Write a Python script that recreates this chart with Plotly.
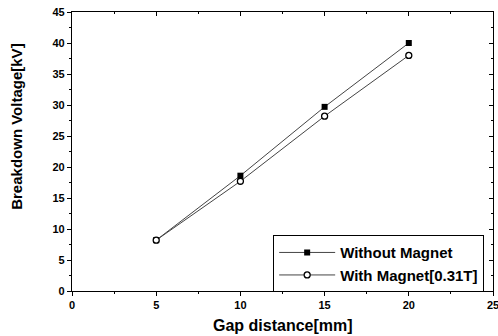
import plotly.graph_objects as go

gap_mm = [5, 10, 15, 20]
without_magnet = [8.2, 18.6, 29.7, 40.0]
with_magnet = [8.2, 17.7, 28.2, 38.0]
x_ticks = [0, 5, 10, 15, 20, 25]
y_ticks = [0, 5, 10, 15, 20, 25, 30, 35, 40, 45]

FONT = "Liberation Sans, Arial, sans-serif"

fig = go.Figure()
fig.add_trace(go.Scatter(
    x=gap_mm, y=without_magnet, mode="lines+markers", name="<b>Without Magnet</b>",
    line=dict(color="#444", width=1),
    marker=dict(symbol="square", size=6, color="black"),
))
fig.add_trace(go.Scatter(
    x=gap_mm, y=with_magnet, mode="lines+markers", name="<b>With Magnet[0.31T]</b>",
    line=dict(color="#444", width=1),
    marker=dict(symbol="circle", size=6, color="white", line=dict(width=1.3, color="black")),
))
# invisible trace for mirrored inside ticks
fig.add_trace(go.Scatter(x=[0], y=[0], xaxis="x2", yaxis="y2", mode="markers",
                         marker=dict(opacity=0), showlegend=False, hoverinfo="skip"))

tickfont = dict(family=FONT, size=11, color="black")
fig.update_layout(
    width=498, height=336,
    margin=dict(l=72, r=5, t=12, b=45, autoexpand=False),
    paper_bgcolor="white", plot_bgcolor="white",
    font=dict(family=FONT, color="black"),
    xaxis=dict(range=[0, 25], tickvals=x_ticks, ticktext=[f"<b>{v}</b>" for v in x_ticks],
               ticks="outside", ticklen=4, ticklabeloverflow="allow",
               tickcolor="black", linecolor="black", linewidth=1.2, showgrid=False,
               zeroline=False, tickfont=tickfont,
               minor=dict(dtick=2.5, ticks="outside", ticklen=2, tickcolor="black")),
    yaxis=dict(range=[0, 45], tickvals=y_ticks, ticktext=[f"<b>{v}</b>" for v in y_ticks],
               ticks="outside", ticklen=4, ticklabeloverflow="allow",
               tickcolor="black", linecolor="black", linewidth=1.2, showgrid=False,
               zeroline=False, tickfont=tickfont,
               minor=dict(dtick=2.5, ticks="outside", ticklen=2, tickcolor="black")),
    xaxis2=dict(range=[0, 25], overlaying="x", side="top", tickvals=x_ticks,
                ticks="inside", ticklen=4, tickcolor="black", showticklabels=False,
                linecolor="black", linewidth=1.2, showgrid=False, zeroline=False,
                minor=dict(dtick=2.5, ticks="inside", ticklen=2, tickcolor="black")),
    yaxis2=dict(range=[0, 45], overlaying="y", side="right", tickvals=y_ticks,
                ticks="inside", ticklen=4, tickcolor="black", showticklabels=False,
                linecolor="black", linewidth=1.2, showgrid=False, zeroline=False,
                minor=dict(dtick=2.5, ticks="inside", ticklen=2, tickcolor="black")),
    legend=dict(x=0.979, y=0.2, xanchor="right", yanchor="top",
                bordercolor="black", borderwidth=1, bgcolor="white",
                font=dict(size=15, family=FONT),
                tracegroupgap=0, itemwidth=56),
    showlegend=True,
    annotations=[
        dict(text="<b>Gap distance[mm]</b>", xref="paper", yref="paper",
             x=0.5, y=-0.122, xanchor="center", yanchor="middle", showarrow=False,
             font=dict(size=16, family=FONT)),
        dict(text="<b>Breakdown Voltage[kV]</b>", xref="paper", yref="paper",
             x=-0.131, y=0.588, xanchor="center", yanchor="middle", showarrow=False,
             textangle=-90, font=dict(size=15, family=FONT)),
    ],
)
fig.write_html("out.html", config={"displayModeBar": False},
               post_script="document.body.style.margin='0';")
